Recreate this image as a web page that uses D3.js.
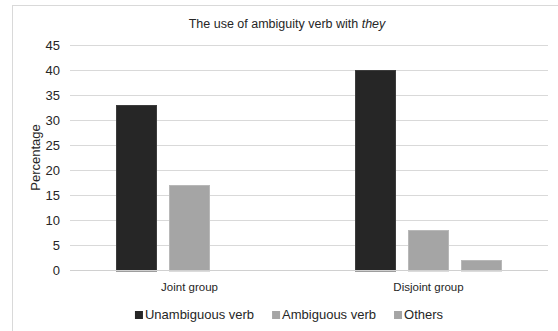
<!DOCTYPE html>
<html>
<head>
<meta charset="utf-8">
<script src="https://cdn.jsdelivr.net/npm/d3@7"></script>
<style>
  html, body { margin: 0; padding: 0; background: #fff; }
  svg { display: block; }
  text { font-family: "Liberation Sans", Arial, sans-serif; fill: #262626; }
</style>
</head>
<body>
<script>
const categories = ["Joint group", "Disjoint group"];
const seriesNames = ["Unambiguous verb", "Ambiguous verb", "Others"];
const unambiguous = [33, 40];
const ambiguous = [17, 8];
const others = [0, 2];
const yTicks = [0, 5, 10, 15, 20, 25, 30, 35, 40, 45];

const seriesValues = [unambiguous, ambiguous, others];
const colors = ["#262626", "#a5a5a5", "#a5a5a5"];
const strokes = ["#3c3c3c", "#b8b8b8", "#b8b8b8"];

const W = 558, H = 331;
const svg = d3.select("body").append("svg").attr("width", W).attr("height", H);

// outer chart border
svg.append("rect").attr("x", 12.5).attr("y", 5.5).attr("width", 700).attr("height", 500)
  .attr("fill", "none").attr("stroke", "#d9d9d9").attr("stroke-width", 1);

const plot = { left: 70, right: 548, top: 45, bottom: 270 };

const y = d3.scaleLinear().domain([0, 45]).range([plot.bottom, plot.top]);
const x0 = d3.scaleBand().domain(categories).range([plot.left, plot.right]).paddingInner(0).paddingOuter(0);
const x1 = d3.scaleBand().domain(seriesNames).range([0, 147]).paddingInner(12 / 53).paddingOuter(0);

// gridlines
svg.append("g").selectAll("line").data(yTicks.filter(d => d > 0)).join("line")
  .attr("x1", plot.left).attr("x2", plot.right)
  .attr("y1", d => Math.round(y(d)) + 0.5).attr("y2", d => Math.round(y(d)) + 0.5)
  .attr("stroke", "#d9d9d9").attr("stroke-width", 1);

// y-axis tick labels via axis
const yAxis = d3.axisLeft(y).tickValues(yTicks).tickSize(0).tickPadding(0);
const yg = svg.append("g").attr("transform", `translate(${plot.left - 10},0)`).call(yAxis);
yg.select(".domain").remove();
yg.selectAll("text").attr("font-size", 13).attr("font-family", '"Liberation Sans", Arial, sans-serif')
  .attr("fill", "#262626").attr("dy", "0.36em");

// bars
const groups = svg.append("g").selectAll("g").data(categories).join("g")
  .attr("transform", d => `translate(${x0(d) + (x0.bandwidth() - 147) / 2},0)`);
groups.selectAll("rect")
  .data((c, ci) => seriesNames.map((s, si) => ({ s, si, v: seriesValues[si][ci] })).filter(d => d.v > 0))
  .join("rect")
  .attr("x", d => x1(d.s) + 0.5)
  .attr("width", x1.bandwidth() - 1)
  .attr("y", d => y(d.v) + 0.5)
  .attr("height", d => y(0) - y(d.v) + 0.5)
  .attr("fill", d => colors[d.si])
  .attr("stroke", d => strokes[d.si])
  .attr("stroke-width", 1);

// zero axis line
svg.append("line").attr("x1", plot.left).attr("x2", plot.right)
  .attr("y1", y(0) + 0.5).attr("y2", y(0) + 0.5)
  .attr("stroke", "#d0d0d0").attr("stroke-width", 1);

// category labels
const xAxis = d3.axisBottom(x0).tickSize(0).tickPadding(0);
const xg = svg.append("g").attr("transform", `translate(0,${plot.bottom})`).call(xAxis);
xg.select(".domain").remove();
xg.selectAll("text").attr("font-size", 11.5).attr("font-family", "Lato, 'Open Sans', sans-serif")
  .attr("fill", "#262626").attr("dy", "21px");

// y title
svg.append("text").attr("transform", `translate(40,${(plot.top + plot.bottom) / 2}) rotate(-90)`)
  .attr("text-anchor", "middle").attr("font-size", 13).text("Percentage");

// chart title
const title = svg.append("text").attr("x", 287).attr("y", 28).attr("text-anchor", "middle").attr("font-size", 12.5);
title.append("tspan").text("The use of ambiguity verb with ");
title.append("tspan").attr("font-style", "italic").text("they");

// legend
const legend = svg.append("g");
let lx = 0;
const items = [];
seriesNames.forEach((s, i) => {
  const g = legend.append("g").attr("transform", `translate(${lx},0)`);
  g.append("rect").attr("x", 0).attr("y", -8).attr("width", 8).attr("height", 8).attr("fill", colors[i]);
  const t = g.append("text").attr("x", 10).attr("y", 0).attr("font-size", 13).text(s);
  const w = t.node().getComputedTextLength();
  lx += 10 + w + 18;
});
const totalW = lx - 18;
legend.attr("transform", `translate(${289 - totalW / 2},319)`);
</script>
</body>
</html>
